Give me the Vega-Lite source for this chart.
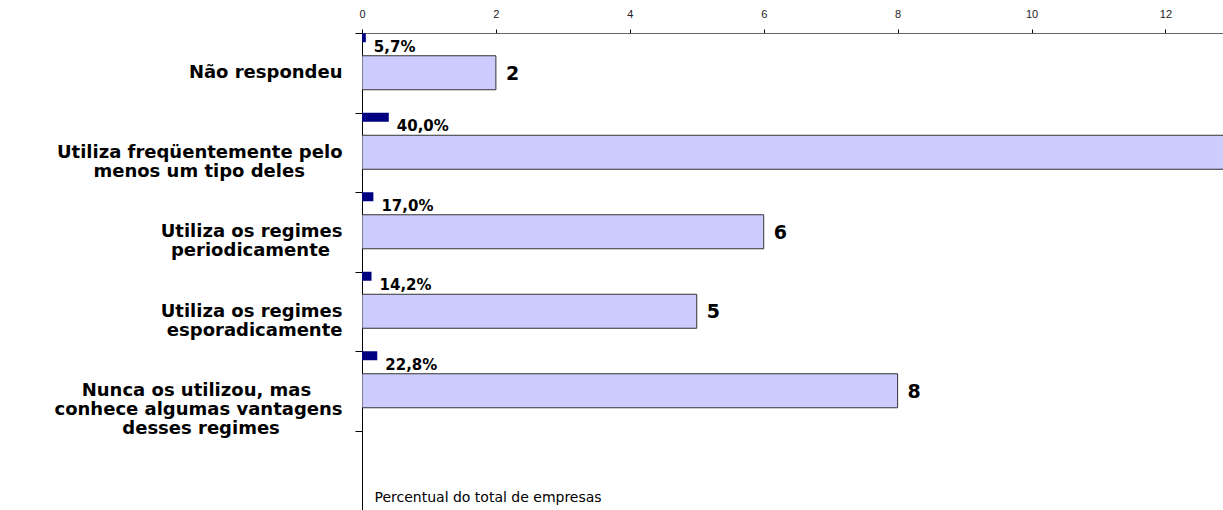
{
  "$schema": "https://vega.github.io/schema/vega-lite/v6.json",
  "width": 861,
  "height": 477,
  "autosize": {"type": "none"},
  "padding": {"left": 362, "top": 33, "right": 0, "bottom": 0},
  "background": "white",
  "config": {
    "view": {"stroke": null},
    "locale": {"number": {"decimal": ",", "thousands": ".", "grouping": [3], "currency": ["R$", ""]}}
  },
  "data": {
    "values": [
      {"cat": "Não respondeu", "share": 0.057, "count": 2},
      {"cat": "Utiliza freqüentemente pelo menos um tipo deles", "share": 0.4, "count": 14},
      {"cat": "Utiliza os regimes periodicamente", "share": 0.17, "count": 6},
      {"cat": "Utiliza os regimes esporadicamente", "share": 0.142, "count": 5},
      {"cat": "Nunca os utilizou, mas conhece algumas vantagens desses regimes", "share": 0.228, "count": 8}
    ]
  },
  "encoding": {
    "y": {
      "field": "cat",
      "type": "nominal",
      "sort": null,
      "scale": {
        "domain": [
          "Não respondeu",
          "Utiliza freqüentemente pelo menos um tipo deles",
          "Utiliza os regimes periodicamente",
          "Utiliza os regimes esporadicamente",
          "Nunca os utilizou, mas conhece algumas vantagens desses regimes",
          ""
        ],
        "paddingInner": 0,
        "paddingOuter": 0
      },
      "axis": {
        "title": null,
        "domainColor": "#000000",
        "domainWidth": 1,
        "tickColor": "#000000",
        "tickSize": 7,
        "tickBand": "extent",
        "labelPadding": 13,
        "labelFont": "DejaVu Sans",
        "labelFontWeight": "bold",
        "labelFontSize": 18,
        "labelColor": "#000000",
        "labelLineHeight": 19,
        "labelAlign": "right",
        "labelBaseline": "middle",
        "labelLimit": 0,
        "labelExpr": "datum.value == 'Utiliza freqüentemente pelo menos um tipo deles' ? ['Utiliza freqüentemente pelo', 'menos um tipo deles\u00a0\u00a0\u00a0\u00a0\u00a0\u00a0\u200b'] : datum.value == 'Utiliza os regimes periodicamente' ? ['Utiliza os regimes', 'periodicamente\u00a0\u00a0\u200b'] : datum.value == 'Utiliza os regimes esporadicamente' ? ['Utiliza os regimes', 'esporadicamente'] : datum.value == 'Nunca os utilizou, mas conhece algumas vantagens desses regimes' ? ['Nunca os utilizou, mas\u00a0\u00a0\u00a0\u00a0\u00a0\u200b', 'conhece algumas vantagens', 'desses regimes\u00a0\u00a0\u00a0\u00a0\u00a0\u00a0\u00a0\u00a0\u00a0\u00a0\u200b'] : datum.value"
      }
    }
  },
  "layer": [
    {
      "mark": {"type": "bar", "height": 34, "fill": "#CCCCFF", "stroke": "#333333", "strokeWidth": 1, "clip": true},
      "encoding": {
        "x": {
          "field": "count",
          "type": "quantitative",
          "title": "Percentual do total de empresas",
          "scale": {"domain": [0, 12.86], "nice": false, "zero": true},
          "axis": {
            "orient": "top",
            "values": [0, 2, 4, 6, 8, 10, 12],
            "format": "d",
            "grid": false,
            "labelFlush": false,
            "labelFont": "Liberation Sans",
            "labelFontSize": 11,
            "labelColor": "#222222",
            "labelPadding": 10,
            "tickSize": 4,
            "tickColor": "#000000",
            "domainColor": "#666666",
            "titleX": 12,
            "titleY": 464,
            "titleAlign": "left",
            "titleBaseline": "middle",
            "titleFont": "DejaVu Sans",
            "titleFontWeight": "normal",
            "titleFontSize": 14,
            "titleColor": "#000000"
          }
        }
      }
    },
    {
      "mark": {"type": "bar", "height": 9, "yOffset": -35, "fill": "#000080", "clip": true},
      "encoding": {
        "x": {"field": "share", "type": "quantitative", "title": "Percentual do total de empresas"}
      }
    },
    {
      "mark": {"type": "text", "align": "left", "baseline": "middle", "dx": 8, "yOffset": -26, "font": "DejaVu Sans", "fontWeight": "bold", "fontSize": 15, "color": "#000000", "clip": true},
      "encoding": {
        "x": {"field": "share", "type": "quantitative", "title": "Percentual do total de empresas"},
        "text": {"field": "share", "type": "quantitative", "format": ".1%"}
      }
    },
    {
      "transform": [{"filter": "datum.count <= 12.5"}],
      "mark": {"type": "text", "align": "left", "baseline": "middle", "dx": 10, "yOffset": 1, "font": "DejaVu Sans", "fontWeight": "bold", "fontSize": 19, "color": "#000000", "clip": true},
      "encoding": {
        "x": {"field": "count", "type": "quantitative", "title": "Percentual do total de empresas"},
        "text": {"field": "count", "type": "quantitative"}
      }
    }
  ]
}
